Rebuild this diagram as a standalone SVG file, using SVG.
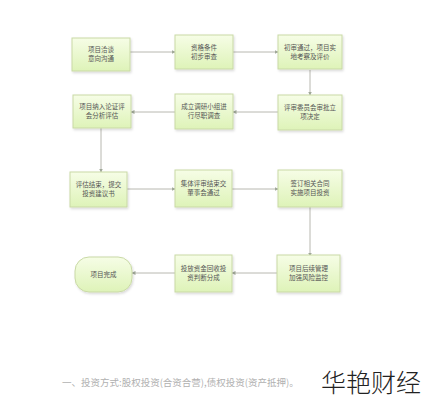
<svg xmlns="http://www.w3.org/2000/svg" width="423" height="400" viewBox="0 0 423 400">
<style>
.box{fill:url(#g);stroke:#c9d9a6;stroke-width:1;filter:url(#sh)}
.t{font-family:"Noto Sans CJK SC","Noto Sans",sans-serif;font-size:6.5px;fill:#555;text-anchor:middle}
.c{fill:none;stroke:#b8b8b0;stroke-width:1;marker-end:url(#a)}
</style>
<defs>
<linearGradient id="g" x1="0" y1="0" x2="0" y2="1"><stop offset="0" stop-color="#f6fde6"/><stop offset="1" stop-color="#def3b8"/></linearGradient>
<filter id="sh" x="-10%" y="-10%" width="125%" height="130%"><feDropShadow dx="1" dy="1.5" stdDeviation="1" flood-color="#000" flood-opacity="0.15"/></filter>
<marker id="a" markerWidth="4" markerHeight="4" refX="3.5" refY="2" orient="auto" markerUnits="userSpaceOnUse"><path d="M0,0 L4,2 L0,4 z" fill="#a0a898"/></marker>
</defs>
<rect width="423" height="400" fill="#fff"/>
<g id="connectors">
<path class="c" d="M130,52 H175"/>
<path class="c" d="M233,52 H278"/>
<path class="c" d="M310,70 V95"/>
<path class="c" d="M278,112 H233"/>
<path class="c" d="M175,112 H131"/>
<path class="c" d="M101,128 V172"/>
<path class="c" d="M127,189 H175"/>
<path class="c" d="M232,189 H278"/>
<path class="c" d="M310,207 V256"/>
<path class="c" d="M277,273 H232"/>
<path class="c" d="M175,273 H132"/>
</g>
<g id="n1"><rect class="box" x="72" y="38" width="58" height="33"/><text class="t" x="101" y="52">项目洽谈</text><text class="t" x="101" y="61">意向沟通</text></g>
<g id="n2"><rect class="box" x="175" y="35" width="58" height="34"/><text class="t" x="204" y="50">资格条件</text><text class="t" x="204" y="59">初步审查</text></g>
<g id="n3"><rect class="box" x="278" y="35" width="64" height="34"/><text class="t" x="310" y="50">初审通过，项目实</text><text class="t" x="310" y="59">地考察及评价</text></g>
<g id="n4"><rect class="box" x="73" y="95" width="58" height="33"/><text class="t" x="102" y="109">项目纳入论证评</text><text class="t" x="102" y="118">会分析评估</text></g>
<g id="n5"><rect class="box" x="175" y="94" width="58" height="35"/><text class="t" x="204" y="109">成立调研小组进</text><text class="t" x="204" y="118">行尽职调查</text></g>
<g id="n6"><rect class="box" x="278" y="95" width="64" height="35"/><text class="t" x="310" y="110">评审委员会审批立</text><text class="t" x="310" y="119">项决定</text></g>
<g id="n7"><rect class="box" x="70" y="172" width="57" height="35"/><text class="t" x="98.5" y="187">评估结束，提交</text><text class="t" x="98.5" y="196">投资建议书</text></g>
<g id="n8"><rect class="box" x="175" y="170" width="57" height="37"/><text class="t" x="203.5" y="186">集体评审结束交</text><text class="t" x="203.5" y="195">董事会通过</text></g>
<g id="n9"><rect class="box" x="278" y="170" width="64" height="37"/><text class="t" x="310" y="186">签订相关合同</text><text class="t" x="310" y="195">实施项目投资</text></g>
<g id="n10"><rect class="box" x="75" y="257" width="57" height="35" rx="14" ry="14"/><text class="t" x="103.5" y="277">项目完成</text></g>
<g id="n11"><rect class="box" x="175" y="255" width="57" height="37"/><text class="t" x="203.5" y="271">投放资金回收投</text><text class="t" x="203.5" y="280">资判断分成</text></g>
<g id="n12"><rect class="box" x="277" y="255" width="63" height="37"/><text class="t" x="308.5" y="271">项目后续管理</text><text class="t" x="308.5" y="280">加强风险监控</text></g>
<text x="62" y="386" font-family="'Noto Sans CJK SC',sans-serif" font-size="9.5" fill="#b0b0b0">一、投资方式:股权投资(合资合营),债权投资(资产抵押)。</text>
<text x="321" y="392" font-family="'Noto Sans CJK SC',sans-serif" font-weight="300" font-size="25" fill="#222">华艳财经</text>
</svg>
